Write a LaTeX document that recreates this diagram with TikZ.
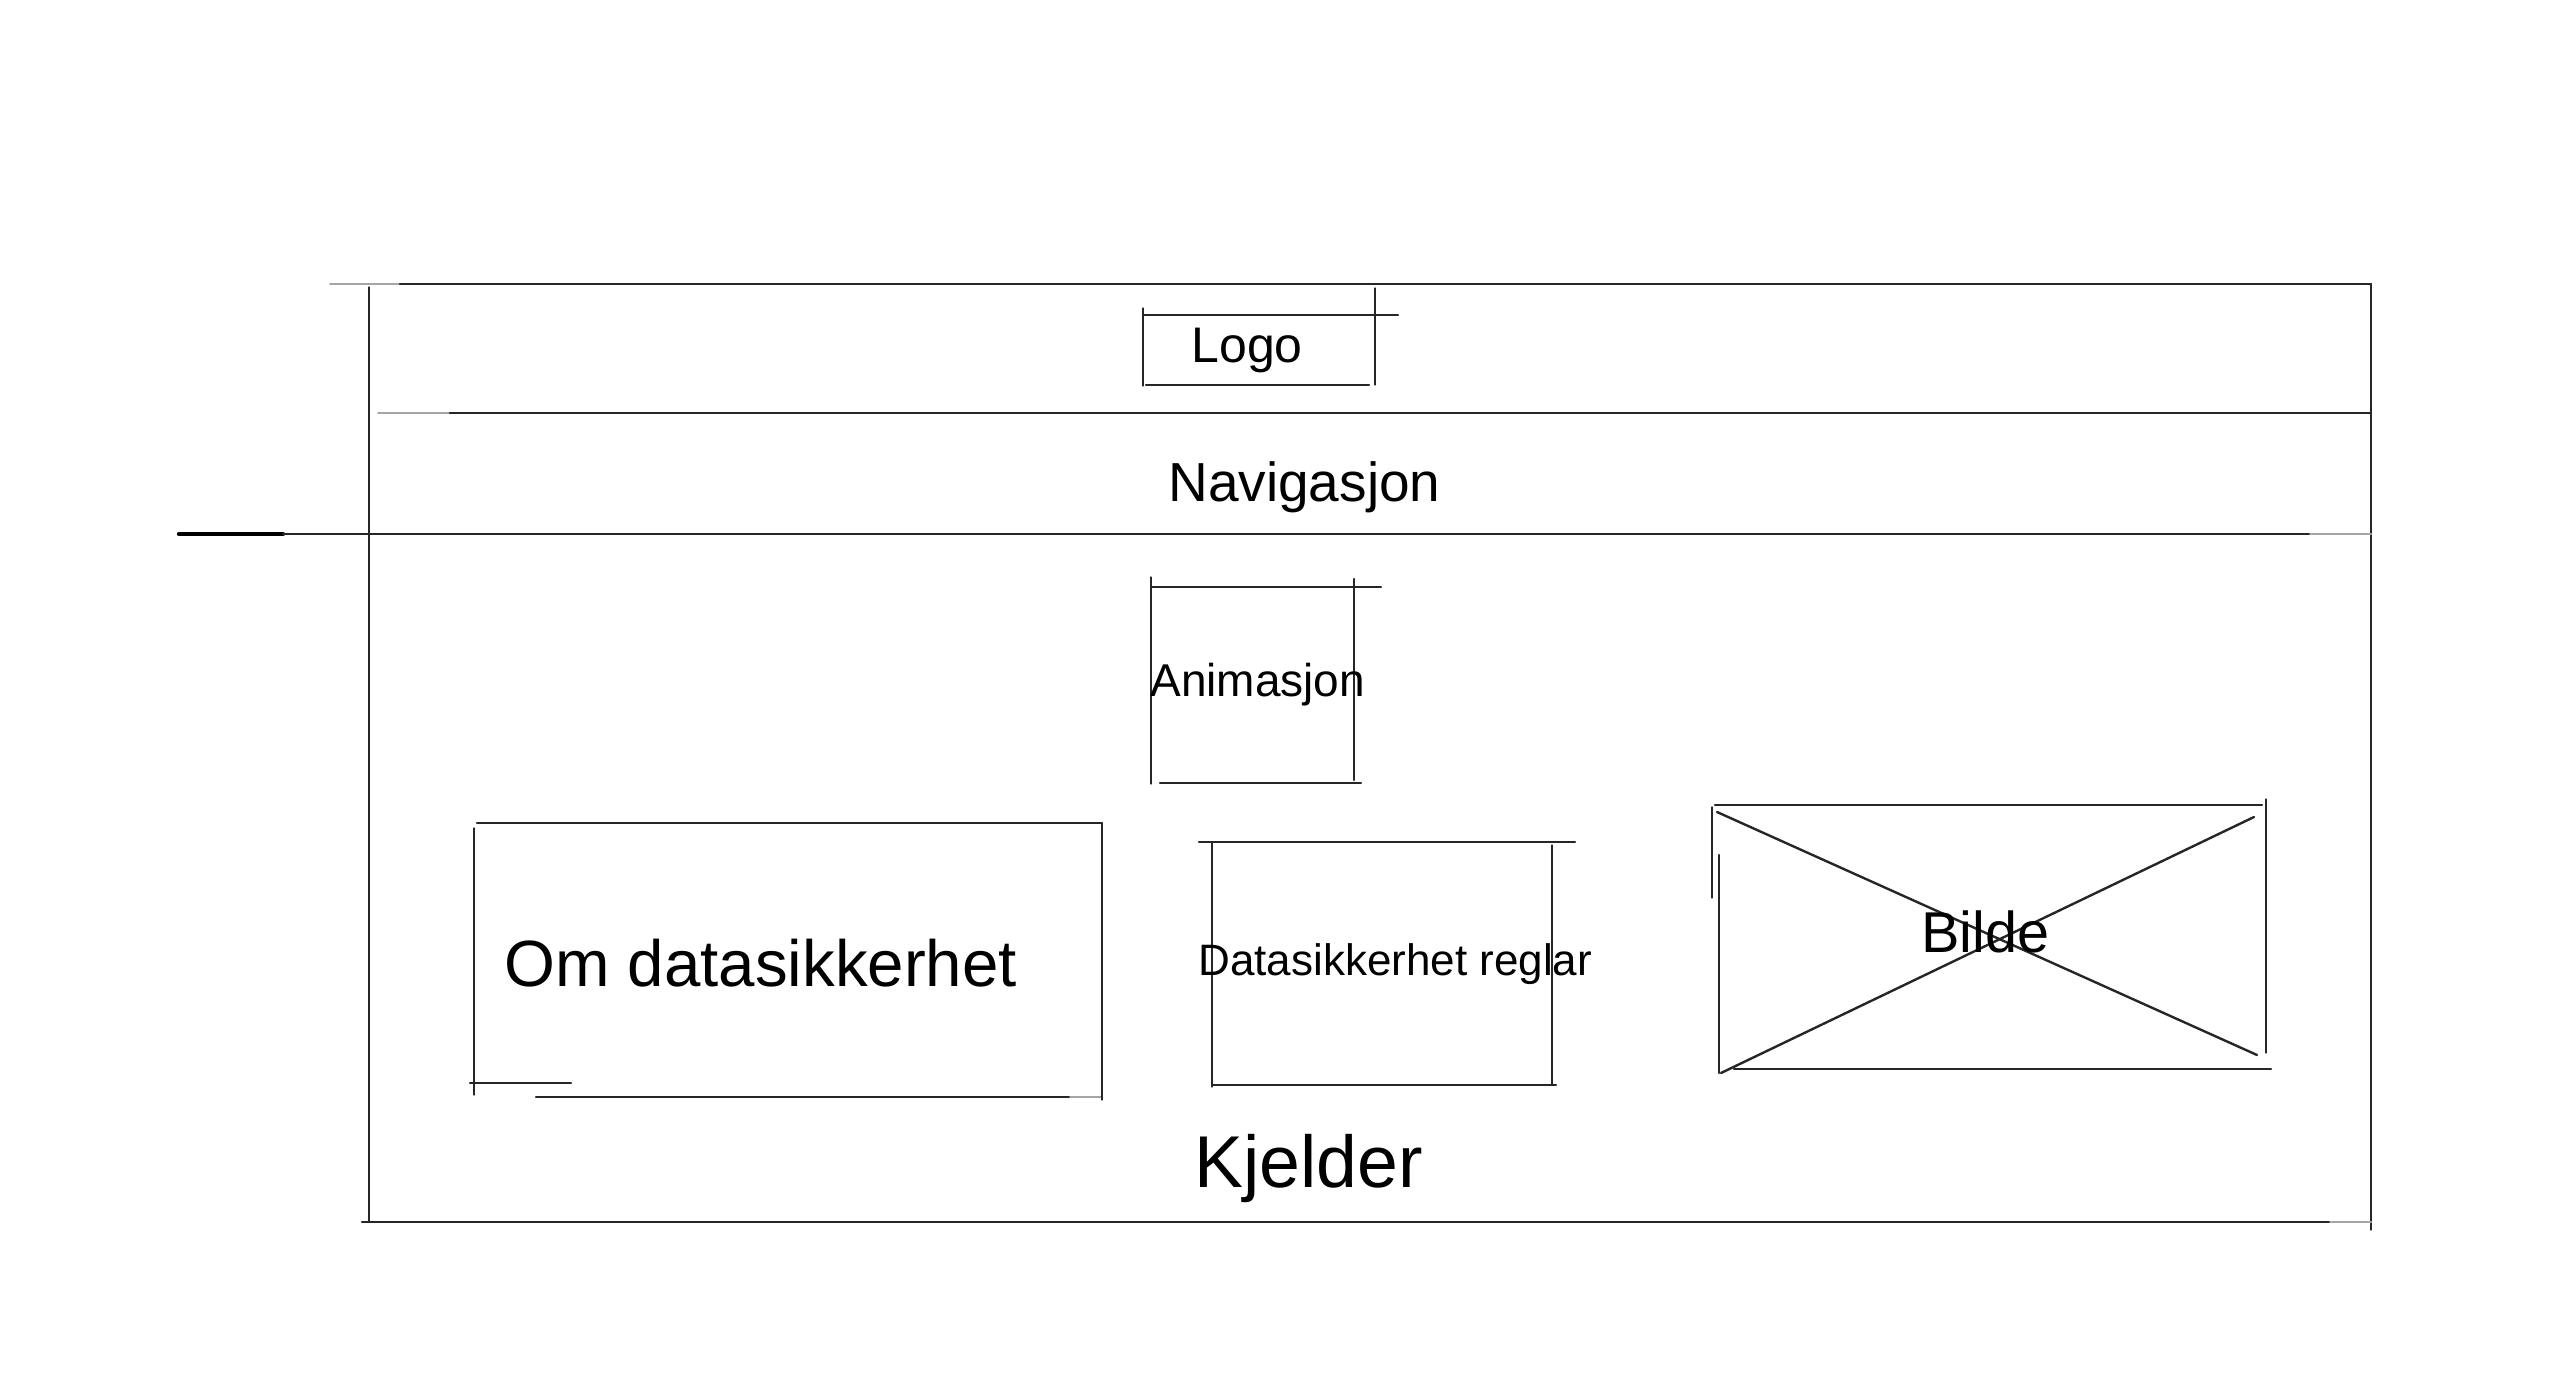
\documentclass[tikz,border=0pt]{standalone}
\usepackage{fontspec}
\setmainfont{Liberation Sans}
\begin{document}
\begin{tikzpicture}[x=0.5pt,y=-0.5pt,
  ln/.style={line width=1.2pt,black!85,line cap=round},
  fine/.style={line width=0.65pt,black!85,line cap=round},
  faint/.style={line width=1pt,black!35,line cap=round},
  lbl/.style={inner sep=0,anchor=base west}]
\useasboundingbox (0,0) rectangle (2560,1380);
% outer frame
\draw[faint] (330,284) -- (400,284);
\draw[ln] (400,284) -- (2371,284);
\draw[fine] (369,287) -- (369,1221);
\draw[ln] (2371,284) -- (2371,915);
\draw[fine] (2371,915) -- (2371,1230);
\draw[faint] (378,413) -- (450,413);
\draw[ln] (450,413) -- (2371,413);
\draw[line width=2.2pt,black,line cap=round] (179,534) -- (283,534);
\draw[ln] (283,534) -- (2310,534);
\draw[faint] (2310,534) -- (2371,534);
\draw[ln] (362,1222) -- (2330,1222);
\draw[faint] (2330,1222) -- (2371,1222);
% logo box
\draw[fine] (1143,308) -- (1143,386);
\draw[ln] (1143,315) -- (1398,315);
\draw[fine] (1375,288) -- (1375,385);
\draw[ln] (1146,385) -- (1369,385);
% animasjon box
\draw[fine] (1151,577) -- (1151,784);
\draw[ln] (1151,587) -- (1381,587);
\draw[ln] (1354,579) -- (1354,780);
\draw[ln] (1160,783) -- (1361,783);
% om datasikkerhet box
\draw[ln] (477,823) -- (1102,823);
\draw[fine] (474,828) -- (474,1095);
\draw[ln] (470,1083) -- (571,1083);
\draw[ln] (536,1097) -- (1070,1097);
\draw[faint] (1070,1097) -- (1102,1097);
\draw[fine] (1102,823) -- (1102,1100);
% datasikkerhet reglar box
\draw[ln] (1199,842) -- (1575,842);
\draw[fine] (1212,842) -- (1212,1087);
\draw[fine] (1552,845) -- (1552,1085);
\draw[ln] (1212,1085) -- (1556,1085);
% bilde box
\draw[ln] (1715,805) -- (2262,805);
\draw[fine] (1712,807) -- (1712,898);
\draw[ln] (1719,855) -- (1719,1073);
\draw[fine] (2266,799) -- (2266,1053);
\draw[ln] (1734,1069) -- (2271,1069);
\draw[ln] (1717,812) -- (2257,1055);
\draw[ln] (1721,1073) -- (2254,817);
% labels
\node[lbl,font=\fontsize{25}{30}\selectfont] (logo) at (1191,363) {Logo};
\node[lbl,font=\fontsize{27.5}{33}\selectfont] (nav) at (1168,501) {Navigasjon};
\node[lbl,font=\fontsize{23}{28}\selectfont] (anim) at (1150,696) {Animasjon};
\node[lbl,font=\fontsize{32.7}{39}\selectfont] (om) at (504,986) {Om datasikkerhet};
\node[lbl,font=\fontsize{22}{26}\selectfont] (regl) at (1198,975) {Datasikkerhet reglar};
\node[lbl,font=\fontsize{36.7}{44}\selectfont] (kjeld) at (1194,1187) {Kjelder};
\node[lbl,font=\fontsize{28.8}{35}\selectfont] (bilde) at (1921,952) {Bilde};
\end{tikzpicture}
\end{document}
